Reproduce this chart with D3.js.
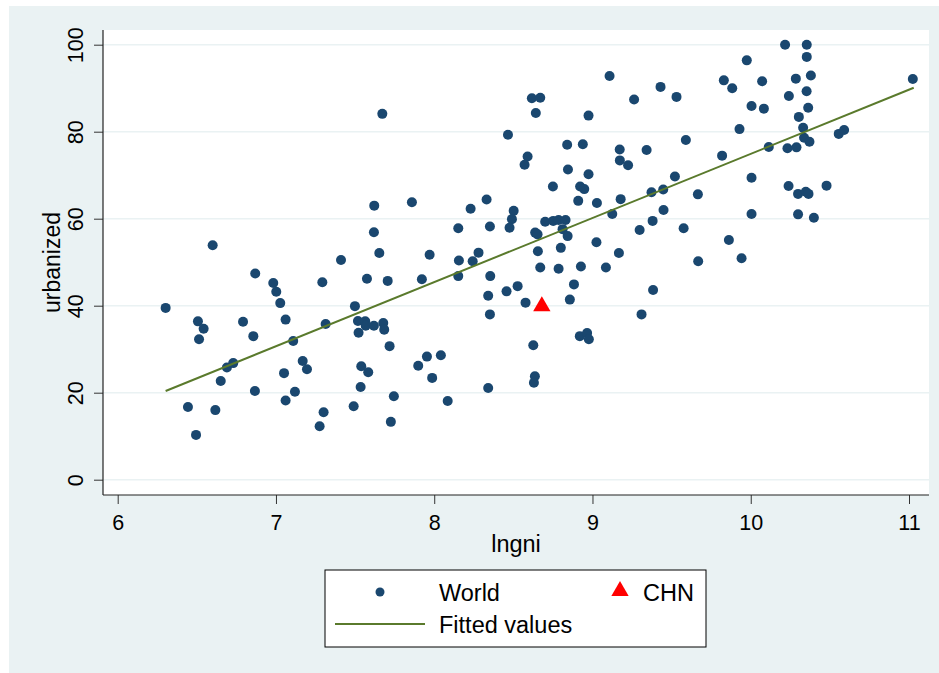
<!DOCTYPE html>
<html>
<head>
<meta charset="utf-8">
<script src="https://cdn.jsdelivr.net/npm/d3@7"></script>
<style>
  html, body { margin: 0; padding: 0; background: #ffffff; }
  svg { display: block; }
  text { font-family: "Liberation Sans", Arial, sans-serif; fill: #000; }
</style>
</head>
<body>
<svg id="chart" width="939" height="673"></svg>
<script>
// ---- Data ----
const worldLngni = [
  6.600, 6.303, 6.507, 6.543, 6.514, 6.792, 6.857, 6.869, 6.983, 7.002,
  7.027, 7.061, 7.109, 6.690, 6.730, 6.651, 6.867, 7.051, 7.120, 7.061,
  6.444, 6.617, 6.495, 7.169, 7.196,
  7.293, 7.314, 7.301, 7.276, 7.411, 7.653, 7.971, 8.156, 8.243, 8.280,
  8.655, 8.800, 9.025, 9.167, 7.575, 7.706, 7.922, 8.152, 8.354, 8.670,
  8.786, 8.927, 9.085, 8.883, 8.857, 8.527, 8.457, 8.341, 8.577, 8.352,
  7.499, 7.518, 7.564, 7.567, 7.619, 7.678, 7.684, 7.522, 7.718, 7.539,
  7.583, 7.899, 7.954, 8.042, 7.987, 7.535, 8.341, 8.626, 8.636, 8.630,
  8.920, 8.966, 8.977, 7.745, 8.085, 7.491, 7.726,
  7.672, 8.617, 8.670, 8.642, 9.108, 8.975, 8.466, 8.840, 8.939, 9.172,
  9.173, 9.225, 8.590, 8.571, 8.845, 8.975, 8.750, 8.922, 8.948, 8.910,
  9.028, 9.178, 9.125, 7.621, 7.859, 8.230, 8.331, 8.502, 8.491, 8.476,
  8.352, 8.152, 7.619, 8.701, 8.752, 8.786, 8.830, 8.811, 8.638, 8.653,
  8.843,
  10.217, 10.354, 10.354, 9.975, 9.830, 9.883, 10.072, 10.285, 10.380, 11.024,
  9.430, 9.531, 9.263, 10.241, 10.353, 10.005, 10.083, 10.363, 10.304, 10.331,
  9.929, 10.337, 10.371, 10.556, 10.590, 10.114, 10.232, 10.289, 9.590, 9.342,
  9.819, 9.521, 10.005, 9.373, 9.447, 9.666, 10.239, 10.299, 10.348, 10.365,
  10.479, 9.449, 9.298, 9.380, 9.576, 10.005, 10.299, 10.399, 9.862, 9.668,
  9.942, 9.383, 9.310
];
const worldUrbanized = [
  53.9, 39.5, 36.4, 34.7, 32.3, 36.3, 33.0, 47.4, 45.2, 43.2,
  40.6, 36.8, 31.9, 25.8, 26.8, 22.7, 20.4, 24.5, 20.2, 18.2,
  16.7, 16.0, 10.3, 27.3, 25.4,
  45.4, 35.8, 15.5, 12.3, 50.5, 52.1, 51.7, 50.4, 50.2, 52.2,
  52.5, 53.3, 54.6, 52.1, 46.2, 45.7, 46.1, 46.8, 46.8, 48.8,
  48.5, 49.0, 48.8, 44.9, 41.4, 44.5, 43.3, 42.3, 40.7, 38.0,
  39.9, 36.5, 36.4, 35.4, 35.4, 36.0, 34.5, 33.8, 30.7, 26.1,
  24.7, 26.2, 28.3, 28.6, 23.4, 21.3, 21.1, 30.9, 23.8, 22.3,
  33.0, 33.7, 32.3, 19.2, 18.1, 16.9, 13.3,
  84.1, 87.7, 87.8, 84.3, 92.8, 83.7, 79.3, 77.0, 77.1, 75.9,
  73.4, 72.3, 74.3, 72.4, 71.3, 70.2, 67.4, 67.4, 66.8, 64.1,
  63.6, 64.5, 61.1, 63.0, 63.8, 62.3, 64.4, 61.8, 59.9, 57.9,
  58.2, 57.8, 56.9, 59.3, 59.5, 59.7, 59.7, 57.6, 56.8, 56.4,
  56.0,
  100.0, 100.0, 97.2, 96.4, 91.8, 90.0, 91.6, 92.2, 92.9, 92.1,
  90.3, 88.0, 87.4, 88.2, 89.3, 85.9, 85.3, 85.5, 83.4, 80.9,
  80.6, 78.6, 77.7, 79.5, 80.4, 76.5, 76.2, 76.4, 78.1, 75.8,
  74.5, 69.7, 69.4, 66.1, 66.7, 65.6, 67.5, 65.7, 66.2, 65.7,
  67.6, 62.0, 57.4, 59.5, 57.8, 61.1, 61.0, 60.2, 55.1, 50.2,
  50.9, 43.6, 38.0
];
const chnLngni = [8.68];
const chnUrbanized = [39.9];
const fitLngni = [6.303, 11.03];
const fitUrbanized = [20.4, 90.1];
const xTickValues = [6, 7, 8, 9, 10, 11];
const yTickValues = [0, 20, 40, 60, 80, 100];
const legendLabels = ["World", "CHN", "Fitted values"];
const xTitle = "lngni";
const yTitle = "urbanized";

// ---- Layout ----
const W = 939, H = 673;
const plot = { left: 103, top: 30, right: 929, bottom: 495 };
const bg = "#EAF2F3";
const navy = "#1A476F";
const lineColor = "#5A7A2C";

const svg = d3.select("#chart");

// outer background
svg.append("rect").attr("x", 9).attr("y", 6).attr("width", W - 9).attr("height", H - 6).attr("fill", bg);
// plot region
svg.append("rect").attr("x", plot.left).attr("y", plot.top)
  .attr("width", plot.right - plot.left).attr("height", plot.bottom - plot.top).attr("fill", "#ffffff");

const x = d3.scaleLinear().domain([6, 11]).range([117.7, 909]);
const y = d3.scaleLinear().domain([0, 100]).range([479.7, 44.7]);

// gridlines
svg.append("g").selectAll("line").data(yTickValues).join("line")
  .attr("x1", plot.left).attr("x2", plot.right)
  .attr("y1", d => y(d)).attr("y2", d => y(d))
  .attr("stroke", bg).attr("stroke-width", 1.6);

// y axis
const yAxis = svg.append("g").attr("transform", `translate(${plot.left},0)`)
  .call(d3.axisLeft(y).tickValues(yTickValues).tickSize(9).tickFormat(d3.format("d")));
yAxis.select(".domain").remove();
yAxis.selectAll(".tick line").attr("stroke", "#333").attr("stroke-width", 1);
yAxis.selectAll(".tick text")
  .attr("x", null).attr("dy", null)
  .attr("transform", "translate(-20,0) rotate(-90)")
  .attr("text-anchor", "middle")
  .style("font-size", "21.5px").style("font-family", "'Liberation Sans', Arial, sans-serif").attr("fill", "#000");

// x axis
const xAxis = svg.append("g").attr("transform", `translate(0,${plot.bottom})`)
  .call(d3.axisBottom(x).tickValues(xTickValues).tickSize(9).tickFormat(d3.format("d")));
xAxis.select(".domain").remove();
xAxis.selectAll(".tick line").attr("stroke", "#333").attr("stroke-width", 1);
xAxis.selectAll(".tick text")
  .attr("y", 35).attr("dy", null)
  .attr("text-anchor", "middle")
  .style("font-size", "21.5px").style("font-family", "'Liberation Sans', Arial, sans-serif").attr("fill", "#000");

// axis lines
svg.append("line").attr("x1", plot.left).attr("x2", plot.left).attr("y1", plot.top).attr("y2", plot.bottom)
  .attr("stroke", "#222").attr("stroke-width", 1.2);
svg.append("line").attr("x1", plot.left).attr("x2", plot.right).attr("y1", plot.bottom).attr("y2", plot.bottom)
  .attr("stroke", "#222").attr("stroke-width", 1.2);

// axis titles
svg.append("text").attr("x", (plot.left + plot.right) / 2).attr("y", 552)
  .attr("text-anchor", "middle").style("font-size", "23.5px").text(xTitle);
svg.append("text").attr("transform", `translate(60,${(plot.top + plot.bottom) / 2}) rotate(-90)`)
  .attr("text-anchor", "middle").style("font-size", "23px").text(yTitle);

// world points
const world = worldLngni.map((v, i) => ({ x: v, y: worldUrbanized[i] }));
svg.append("g").selectAll("circle").data(world).join("circle")
  .attr("cx", d => x(d.x)).attr("cy", d => y(d.y)).attr("r", 5).attr("fill", navy);

// fitted line
const fit = fitLngni.map((v, i) => ({ x: v, y: fitUrbanized[i] }));
svg.append("path").datum(fit)
  .attr("d", d3.line().x(d => x(d.x)).y(d => y(d.y)))
  .attr("fill", "none").attr("stroke", lineColor).attr("stroke-width", 2);

// CHN triangle
const tri = d3.symbol().type(d3.symbolTriangle).size(130);
const chn = chnLngni.map((v, i) => ({ x: v, y: chnUrbanized[i] }));
svg.append("g").selectAll("path").data(chn).join("path")
  .attr("d", tri).attr("transform", d => `translate(${x(d.x)},${y(d.y)})`)
  .attr("fill", "#FF0000");

// legend
const lg = svg.append("g");
lg.append("rect").attr("x", 325).attr("y", 570).attr("width", 381).attr("height", 77)
  .attr("fill", "#fff").attr("stroke", "#000").attr("stroke-width", 1);
lg.append("circle").attr("cx", 380).attr("cy", 592).attr("r", 4.5).attr("fill", navy);
lg.append("text").attr("x", 439).attr("y", 601).style("font-size", "23.5px").text(legendLabels[0]);
lg.append("path").attr("d", tri).attr("transform", "translate(620,591)").attr("fill", "#FF0000");
lg.append("text").attr("x", 643).attr("y", 601).style("font-size", "23.5px").text(legendLabels[1]);
lg.append("line").attr("x1", 335).attr("x2", 425).attr("y1", 624).attr("y2", 624)
  .attr("stroke", lineColor).attr("stroke-width", 2);
lg.append("text").attr("x", 439).attr("y", 633).style("font-size", "23.5px").text(legendLabels[2]);
</script>
</body>
</html>
